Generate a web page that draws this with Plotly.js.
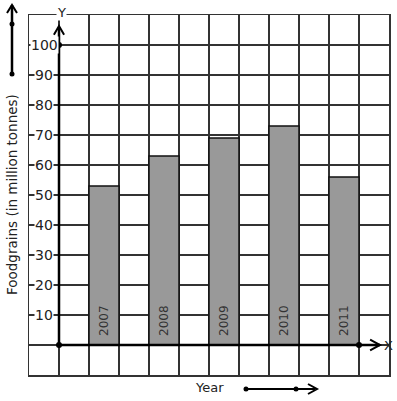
<!DOCTYPE html>
<html><head><meta charset="utf-8">
<script src="https://cdn.plot.ly/plotly-3.0.1.min.js"></script>
<style>html,body{margin:0;padding:0;background:#fff}#c{width:397px;height:401px}</style>
</head><body><div id="c"></div>
<script>
var years = ['2007','2008','2009','2010','2011'];
var foodgrains = [53, 63, 69, 73, 56];
var barPositions = [1.5, 3.5, 5.5, 7.5, 9.5];
var yTickVals = [10,20,30,40,50,60,70,80,90,100];
var yTickText = ['10','20','30','40','50','60','70','80','90','100'];

var W = 397, H = 401;
function px(x){return x/W;}
function py(y){return 1 - y/H;}
var FONT = 'DejaVu Sans, sans-serif';

var traces = [{
  type:'bar', x: barPositions, y: foodgrains, width: 1,
  marker:{color:'#999999', line:{color:'#111', width:1.5}},
  hoverinfo:'none'
},{
  type:'scatter', mode:'markers', x:[0,0,10], y:[0,100,0],
  marker:{color:'#000', size:6}, cliponaxis:false, hoverinfo:'none'
}];

function ann(o){ o.xanchor = o.xanchor || 'center'; o.yanchor = o.yanchor || 'middle'; o.showarrow = false; return o; }

var annotations = [];
yTickVals.forEach(function(v,i){
  annotations.push(ann({x:-0.5, y:v, xref:'x', yref:'y', text:yTickText[i],
    bgcolor:'#fff', borderpad:0, font:{family:FONT, size:14, color:'#222'}}));
});
years.forEach(function(t,i){
  annotations.push(ann({x:barPositions[i], y:8, xref:'x', yref:'y', text:t,
    textangle:-90, font:{family:FONT, size:12, color:'#333'}}));
});
annotations.push(ann({x:px(61), y:py(12), xref:'paper', yref:'paper', text:'Y',
  bgcolor:'#fff', borderpad:0, font:{family:FONT, size:13, color:'#222'}}));
annotations.push(ann({x:px(388), y:py(345), xref:'paper', yref:'paper', text:'X',
  font:{family:FONT, size:13, color:'#222'}}));
annotations.push(ann({x:px(209), y:py(387), xref:'paper', yref:'paper', text:'Year',
  font:{family:FONT, size:13, color:'#222'}}));
annotations.push(ann({x:px(12), y:py(195), xref:'paper', yref:'paper', text:'Foodgrains (in million tonnes)',
  textangle:-90, font:{family:FONT, size:13.5, color:'#222'}}));

function ppath(pts){
  return pts.map(function(p,i){return (i?'L':'M')+px(p[0])+','+py(p[1]);}).join(' ');
}
function pdot(x,y,r){
  return {type:'circle', xref:'paper', yref:'paper', x0:px(x-r), x1:px(x+r), y0:py(y+r), y1:py(y-r),
    fillcolor:'#000', line:{color:'#000', width:0}};
}

var shapes = [
  {type:'line', xref:'x', yref:'y', x0:0, y0:0, x1:0, y1:106, line:{color:'#000', width:2.5}},
  {type:'line', xref:'x', yref:'y', x0:0, y0:0, x1:10.7, y1:0, line:{color:'#000', width:2.5}},
  {type:'path', xref:'x', yref:'y', path:'M-0.17,103.4 L0,106.3 L0.17,103.4', line:{color:'#000', width:2}},
  {type:'path', xref:'x', yref:'y', path:'M10.37,1.8 L10.7,0 L10.37,-1.8', line:{color:'#000', width:2}},
  {type:'path', xref:'paper', yref:'paper', path:ppath([[12,75],[12,5]]), line:{color:'#000', width:2.5}},
  {type:'path', xref:'paper', yref:'paper', path:ppath([[7,13],[12,5],[17,13]]), line:{color:'#000', width:2}},
  pdot(12,24,2.5), pdot(12,74,2.5),
  {type:'path', xref:'paper', yref:'paper', path:ppath([[246,389],[315,389]]), line:{color:'#000', width:2}},
  {type:'path', xref:'paper', yref:'paper', path:ppath([[308,384],[317,389],[308,394]]), line:{color:'#000', width:2}},
  pdot(246,389,2.5), pdot(296,389,2.5)
];

var layout = {
  width:W, height:H, margin:{l:0,r:0,t:0,b:0},
  paper_bgcolor:'#fff', plot_bgcolor:'#fff', showlegend:false, bargap:0,
  xaxis:{domain:[29/W, 389/W], range:[-1,11], tick0:0, dtick:1, showgrid:true, gridcolor:'#333', gridwidth:1.2,
    zeroline:false, showticklabels:false, ticks:'', showline:true, mirror:true, linecolor:'#333', linewidth:1.5, fixedrange:true},
  yaxis:{domain:[26/H, 386/H], range:[-10,110], tick0:0, dtick:10, showgrid:true, gridcolor:'#333', gridwidth:1.2,
    zeroline:false, showticklabels:false, ticks:'', showline:true, mirror:true, linecolor:'#333', linewidth:1.5, fixedrange:true},
  annotations:annotations, shapes:shapes
};
Plotly.newPlot('c', traces, layout, {displayModeBar:false, staticPlot:true});
</script></body></html>
